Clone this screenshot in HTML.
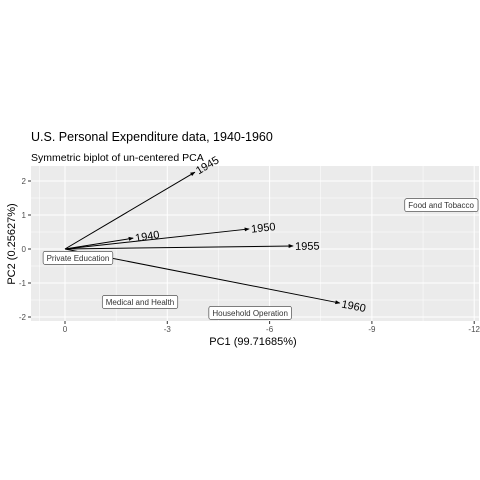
<!DOCTYPE html>
<html><head><meta charset="utf-8"><style>body{margin:0;background:#fff}svg{display:block;font-family:"Liberation Sans",sans-serif}</style></head><body>
<svg id="c" width="480" height="480">
<defs><marker id="ah" viewBox="0 0 10 10" refX="9" refY="5" markerWidth="5" markerHeight="5" orient="auto"><path d="M0,1L10,5L0,9z" fill="#000"/></marker></defs>
<text x="31" y="141" font-size="12.5">U.S. Personal Expenditure data, 1940-1960</text>
<text x="31" y="161" font-size="10.5">Symmetric biplot of un-centered PCA</text>
<rect x="31" y="166" width="448" height="155" fill="#ebebeb"/>
<g id="grid"></g><g id="axes"></g><g id="marks"></g>
<text x="253" y="345" font-size="11" text-anchor="middle">PC1 (99.71685%)</text>
<text transform="translate(15,244) rotate(-90)" font-size="11" text-anchor="middle">PC2 (0.25627%)</text>
</svg>
<script>
const years=["1940","1945","1950","1955","1960"];
const arrowX=[-2.0,-3.81,-5.4,-6.69,-8.06];
const arrowY=[0.32,2.26,0.59,0.09,-1.59];
const cats=["Food and Tobacco","Household Operation","Medical and Health","Private Education"];
const catX=[-11.03,-5.43,-2.2,-0.38];
const catY=[1.29,-1.88,-1.56,-0.26];
const xTicks=[0,-3,-6,-9,-12];
const yTicks=[2,1,0,-1,-2];
const NS="http://www.w3.org/2000/svg";
const sx=v=>65-v*34.1, sy=v=>249-v*34;
function mk(t,a,p){const e=document.createElementNS(NS,t);for(const k in a)e.setAttribute(k,a[k]);p.appendChild(e);return e;}
const g=document.getElementById('grid'),ax=document.getElementById('axes'),m=document.getElementById('marks');
for(let i=0;i<xTicks.length;i++){const v=xTicks[i];
 if(i<xTicks.length-1){const mid=(v+xTicks[i+1])/2;const l=mk('line',{x1:sx(mid),x2:sx(mid),y1:166,y2:321,stroke:'#fff','stroke-width':0.5},g);}
 const l=mk('line',{x1:sx(v),x2:sx(v),y1:166,y2:321,stroke:'#fff','stroke-width':1},g);
 mk('line',{x1:sx(v),x2:sx(v),y1:321,y2:324,stroke:'#333'},ax);
 const t=mk('text',{x:sx(v),y:332,'font-size':8,fill:'#4d4d4d','text-anchor':'middle'},ax);t.textContent=v;}
mk('line',{x1:sx(0.75),x2:sx(0.75),y1:166,y2:321,stroke:'#fff','stroke-width':0.5},g);
for(let i=0;i<yTicks.length;i++){const v=yTicks[i];
 if(i<yTicks.length-1){const mid=(v+yTicks[i+1])/2;mk('line',{x1:31,x2:479,y1:sy(mid),y2:sy(mid),stroke:'#fff','stroke-width':0.5},g);}
 const l=mk('line',{x1:31,x2:479,y1:sy(v),y2:sy(v),stroke:'#fff','stroke-width':1},g);
 mk('line',{x1:28,x2:31,y1:sy(v),y2:sy(v),stroke:'#333'},ax);
 const t=mk('text',{x:26,y:sy(v)+3,'font-size':8,fill:'#4d4d4d','text-anchor':'end'},ax);t.textContent=v;}
for(let i=0;i<years.length;i++){
 const x=sx(arrowX[i]),y=sy(arrowY[i]);
 const l=mk('line',{x1:sx(0),y1:sy(0),x2:x,y2:y,stroke:'#000','stroke-width':1,'marker-end':'url(#ah)'},m);
 
 const ang=Math.atan2(y-sy(0),x-sx(0))*180/Math.PI;
 const t=mk('text',{x:x+2,y:y+4,'font-size':11,transform:`rotate(${ang} ${x} ${y})`},m);
 t.textContent=years[i];}
for(let i=0;i<cats.length;i++){
 const x=sx(catX[i]),y=sy(catY[i]);
 const t=mk('text',{x:x,y:y+3,'font-size':8,fill:'#333','text-anchor':'middle'},m);
 t.textContent=cats[i];
 const b=t.getBBox();
 const r=document.createElementNS(NS,'rect');
 r.setAttribute('x',b.x-3.5);r.setAttribute('y',y-6.5);r.setAttribute('width',b.width+7);r.setAttribute('height',13);r.setAttribute('rx',2);r.setAttribute('fill','#fff');r.setAttribute('stroke','#333');r.setAttribute('stroke-width',0.6);
 
 m.insertBefore(r,t);
 }
</script>
</body></html>
